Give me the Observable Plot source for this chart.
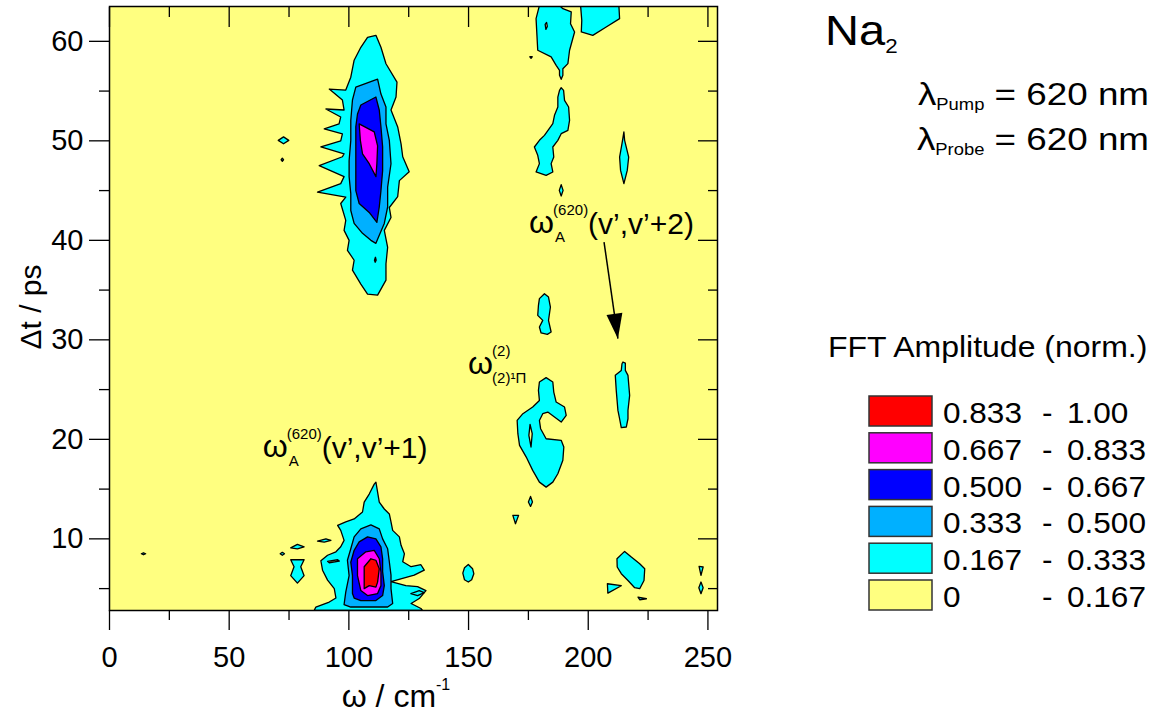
<!DOCTYPE html>
<html><head><meta charset="utf-8">
<script src="https://cdn.jsdelivr.net/npm/d3@7"></script>
<script src="https://cdn.jsdelivr.net/npm/@observablehq/plot@0.6"></script>
<style>
body{margin:0;background:#fff;}
#wrap{position:relative;width:1154px;height:719px;overflow:hidden;}
#wrap svg{position:absolute;left:0;top:0;}
</style></head><body><div id="wrap"></div>
<script>
const FONT = "'Liberation Sans', Arial, Helvetica, sans-serif";
// amplitude levels (0 = background 0–0.167, 5 = 0.833–1.00)
const LEVEL_COLORS = ["#FFFF80", "#00FFFF", "#00B0FF", "#0000FF", "#FF00FF", "#FF0000"];
const legendLow  = ["0.833", "0.667", "0.500", "0.333", "0.167", "0"];
const legendHigh = ["1.00", "0.833", "0.667", "0.500", "0.333", "0.167"];
const legendLevels = [5, 4, 3, 2, 1, 0];
const xMajor = [0, 50, 100, 150, 200, 250];
const xMinor = [25, 75, 125, 175, 225];
const yMajor = [10, 20, 30, 40, 50, 60];
const yMinor = [5, 15, 25, 35, 45, 55];

// ---- contour polygons [ω (cm^-1), Δt (ps)] ----
// upper band near 110 cm^-1
const upperL1 = [[107.8,60.4],[111.3,60.6],[113.4,59.4],[115.5,57.75],[120.1,55.9],[119.7,54.4],[117.6,53.1],[120.4,51.4],[121.8,49.7],[122.5,48.4],[125.2,46.9],[121.1,46.0],[120.4,44.4],[116.9,43.3],[117.6,42.3],[114.8,41.0],[116.2,39.3],[115.5,37.65],[115.5,36.0],[112.0,34.5],[107.8,34.6],[105.0,35.6],[101.5,37.0],[102.2,38.0],[99.4,39.0],[100.1,40.0],[98.0,41.0],[98.7,42.0],[96.6,43.7],[98.7,44.35],[86.9,44.85],[96.6,45.7],[98.0,46.4],[87.6,47.5],[97.3,48.4],[98.0,48.7],[88.3,49.4],[96.6,50.0],[97.3,50.7],[89.7,51.2],[95.9,51.7],[96.6,52.4],[90.4,53.2],[98.0,53.1],[97.3,54.1],[91.8,55.2],[98.7,55.1],[100.8,56.4],[102.2,58.1],[105.0,59.4]];
const upperL2 = [[102.9,55.4],[112.0,56.2],[113.4,54.7],[115.5,53.4],[115.5,51.7],[116.9,50.05],[117.6,47.7],[116.2,45.35],[116.2,43.35],[114.8,41.7],[112.7,40.5],[111.3,39.7],[109.2,40.0],[105.7,40.7],[102.2,41.7],[100.8,43.0],[100.8,44.7],[100.1,46.4],[100.1,48.0],[100.8,50.05],[100.8,52.05],[101.5,54.1]];
const upperL3 = [[105.0,53.6],[111.3,54.4],[112.7,53.1],[113.4,51.4],[114.1,49.4],[114.1,47.0],[113.4,45.0],[112.7,43.35],[111.7,41.8],[108.5,42.8],[104.3,43.7],[102.9,45.0],[102.9,47.0],[102.9,49.4],[102.9,51.4],[103.6,52.7]];
const upperL4 = [[104.3,51.7],[110.6,50.9],[112.0,49.5],[111.7,47.7],[111.3,46.4],[108.5,47.7],[105.7,48.7],[104.8,50.05]];
const upperDiamond = [[70.5,50.05],[72.7,50.4],[74.9,50.05],[72.7,49.7]];
const upperDot = [[71.7,48.1],[72.2,48.25],[72.7,48.1],[72.2,47.95]];
const upperHole = [[110.7,38.0],[111.1,38.3],[111.4,38.0],[111.0,37.8]];
// lower band near 110 cm^-1
const lowerL1 = [[85.5,2.8],[86.2,3.15],[91.8,3.65],[94.6,4.05],[93.9,5.0],[91.1,5.85],[89.0,6.85],[88.3,7.8],[91.1,8.35],[94.6,8.7],[96.6,9.2],[98.0,9.85],[96.6,10.85],[95.3,11.35],[98.7,11.7],[102.2,12.0],[105.7,12.7],[106.4,13.7],[108.5,14.5],[110.6,15.5],[111.3,15.7],[112.0,14.7],[112.7,13.7],[114.8,13.0],[116.9,12.5],[117.6,11.7],[118.3,10.85],[121.1,10.2],[121.8,9.35],[123.2,8.5],[122.5,7.7],[126.0,7.2],[130.1,7.4],[131.5,6.85],[127.3,6.35],[117.6,5.7],[123.8,5.3],[128.7,5.2],[132.2,4.8],[129.4,4.0],[126.0,3.5],[130.1,3.0],[130.8,2.8]];
const lowerL2 = [[98.0,3.4],[98.7,4.65],[100.1,6.3],[99.4,7.85],[100.8,9.0],[102.2,10.2],[105.0,11.0],[109.2,11.4],[112.7,11.0],[114.1,10.0],[116.2,9.0],[116.9,7.7],[117.6,6.35],[117.6,5.0],[118.3,3.5],[116.2,3.15],[100.8,3.15]];
const lowerL3 = [[101.5,4.5],[101.5,6.3],[100.8,7.65],[102.2,8.85],[104.3,9.7],[107.8,10.2],[111.3,10.0],[113.4,9.2],[114.1,8.0],[114.1,6.7],[114.8,5.3],[114.1,4.3],[111.3,3.8],[105.0,3.8],[102.2,4.05]];
const lowerL4 = [[103.6,8.0],[107.1,8.7],[110.6,8.85],[112.7,8.0],[113.4,6.65],[113.4,5.3],[112.0,4.5],[107.8,4.3],[105.0,4.8],[103.6,6.3]];
const lowerL5 = [[106.4,7.2],[109.2,8.0],[111.3,7.85],[112.7,7.0],[112.0,5.65],[111.3,5.15],[108.5,5.3],[106.4,5.0]];
const lowerHole = [[91.1,7.74],[95.3,7.9],[96.0,7.77],[91.8,7.6]];
const lowDot = [[71.3,8.5],[72.2,8.65],[73.1,8.5],[72.2,8.35]];
const lowLens = [[75.7,9.1],[78.5,9.45],[81.3,9.2],[78.5,9.0]];
const lowBowtie = [[75.7,7.9],[81.3,7.9],[79.9,7.2],[81.3,6.3],[78.5,5.55],[75.7,6.3],[77.1,7.2]];
const lowSliver = [[86.9,9.78],[90.4,10.0],[92.5,9.85],[89.7,9.68]];
const lowRight = [[125.9,4.5],[129.4,4.8],[131.5,4.6],[128.7,4.3]];
const farLeftDot = [[13.3,8.5],[14.2,8.6],[15.1,8.5],[14.2,8.4]];
// features between 145 and 250 cm^-1
const omega2Blob = [[179.6,25.76],[182.4,26.2],[185.2,25.76],[185.6,24.75],[186.6,23.75],[190.1,23.25],[190.8,22.4],[188.7,21.74],[185.9,22.24],[183.1,22.74],[181.0,22.58],[179.6,21.9],[180.1,21.07],[182.4,20.06],[188.7,19.9],[189.8,19.23],[189.4,17.9],[187.3,16.54],[185.2,15.7],[182.4,15.2],[179.6,15.7],[176.8,16.88],[174.1,18.22],[171.3,19.39],[170.6,20.57],[170.3,21.9],[172.7,22.58],[176.8,23.25],[179.6,23.9],[179.2,24.92]];
const omega2Hole = [[175.7,21.5],[176.6,20.57],[176.1,19.23],[175.2,20.4]];
const dia14 = [[175.9,14.27],[176.7,13.7],[175.9,13.26],[175.0,13.7]];
const tri12 = [[168.5,12.36],[170.9,12.36],[169.6,11.52]];
const oval150 = [[149.9,7.43],[151.7,6.99],[152.2,6.5],[151.3,5.89],[149.9,5.66],[148.3,5.89],[147.6,6.56],[148.3,7.1]];
const tall215 = [[214.5,27.77],[215.5,27.67],[215.5,26.93],[216.6,26.43],[217.3,24.42],[216.6,22.91],[216.6,22.07],[215.9,21.24],[213.8,21.17],[213.1,22.07],[212.4,22.91],[211.7,24.92],[211.3,26.43],[213.8,26.93],[214.1,27.6]];
const blob218 = [[215.2,8.74],[218.0,8.17],[221.5,7.50],[223.6,7.0],[223.3,5.82],[221.5,4.99],[219.4,5.09],[216.6,5.82],[213.8,6.5],[212.1,7.17],[212.0,8.0]];
const tri210 = [[208.0,5.49],[213.8,5.29],[208.2,4.55]];
const sliver222 = [[220.8,4.15],[224.3,3.98],[221.5,3.88]];
const edgeTri = [[246.3,7.23],[248.0,7.17],[247.1,6.33]];
const edgeOval = [[247.1,5.66],[248.0,5.09],[247.1,4.49],[246.2,5.09]];
const topLeft185 = [[179.6,63.6],[178.2,62.28],[178.9,59.1],[184.5,58.43],[186.6,57.59],[188.0,57.09],[188.0,56.58],[188.7,56.18],[189.4,56.58],[189.4,57.25],[191.5,57.76],[192.2,59.1],[194.3,60.94],[192.6,61.77],[192.9,62.95],[189.4,63.28],[188.0,63.6]];
const topLeftHole = [[182.0,61.7],[182.6,61.9],[182.9,61.5],[182.3,61.2]];
const topDash = [[175.6,58.45],[176.6,58.45],[176.1,58.3]];
const topRight205 = [[196.8,63.6],[197.3,62.11],[197.1,60.94],[201.9,60.6],[207.5,61.44],[213.1,62.28],[212.8,63.6]];
const diag185 = [[188.7,55.34],[189.7,55.07],[190.1,54.07],[191.8,53.4],[192.2,52.06],[191.5,51.05],[188.7,50.72],[187.3,50.05],[185.2,49.38],[185.6,48.37],[184.5,47.71],[185.2,46.87],[182.4,46.53],[178.2,46.87],[179.6,47.71],[178.9,48.54],[177.5,49.38],[179.6,50.05],[181.7,50.55],[185.2,51.72],[185.9,52.56],[187.3,53.4],[187.3,54.4],[188.0,55.07]];
const dia45 = [[188.7,45.59],[189.5,45.02],[188.7,44.46],[187.9,45.02]];
const lens215 = [[214.9,50.89],[215.2,50.05],[216.9,48.37],[216.3,47.03],[214.9,45.7],[213.5,47.03],[213.1,48.37],[214.1,49.71]];
const blob182 = [[181.7,34.64],[183.4,34.3],[184.2,33.3],[183.4,31.96],[184.5,30.79],[182.9,30.55],[180.3,30.69],[179.6,31.29],[181.0,31.96],[178.9,32.46],[179.2,33.47],[179.6,34.14]];

const contours = [
  ...[upperL1, upperDiamond, upperDot, lowerL1, lowDot, lowLens, lowBowtie, lowSliver, lowRight, farLeftDot,
      omega2Blob, dia14, tri12, oval150, tall215, blob218, tri210, sliver222, edgeTri, edgeOval,
      topLeft185, topDash, topRight205, diag185, dia45, lens215, blob182].map(p => ({level: 1, pts: p})),
  ...[upperHole, lowerHole, omega2Hole, topLeftHole].map(p => ({level: 0, pts: p})),
  {level: 2, pts: upperL2}, {level: 2, pts: lowerL2},
  {level: 3, pts: upperL3}, {level: 3, pts: lowerL3},
  {level: 4, pts: upperL4}, {level: 4, pts: lowerL4},
  {level: 5, pts: lowerL5}
];

// annotations
const annV = [{x: 64.0, y: 18.2, label: "(v’,v’+1)"}, {x: 175.3, y: 40.7, label: "(v’,v’+2)"}];
const ann2 = [{x: 149.8, y: 26.6}];
const arrowSpec = [{x1: 206.6, y1: 39.83, x2: 212.4, y2: 30.12}];

const rows = contours.flatMap((c, i) => c.pts.map(([x, y]) => ({id: i, level: c.level, x, y})));
const blank = () => "";
const headSymbol = {draw(ctx) { ctx.moveTo(0, 0); ctx.lineTo(-8, 25); ctx.lineTo(8, 25); ctx.closePath(); }};
const txt = (data, o) => Plot.text(data, {x: "x", y: "y", textAnchor: "start", lineAnchor: "bottom", fontFamily: FONT, fill: "#000", ...o});

const plot = Plot.plot({
  width: 1154, height: 719,
  marginLeft: 109, marginRight: 437, marginTop: 6, marginBottom: 109,
  style: {fontFamily: FONT, fontSize: "29px", color: "#000", background: "transparent", overflow: "visible"},
  x: {domain: [0, 254], label: null},
  y: {domain: [2.8, 63.5], label: null},
  color: {type: "ordinal", domain: [0, 1, 2, 3, 4, 5], range: LEVEL_COLORS},
  marks: [
    Plot.frame({fill: LEVEL_COLORS[0]}),
    Plot.axisX({ticks: xMajor, anchor: "top", tickSize: -20, tickFormat: blank, label: null, strokeWidth: 1.3}),
    Plot.axisX({ticks: xMinor, anchor: "top", tickSize: -10, tickFormat: blank, label: null, strokeWidth: 1.3}),
    Plot.axisY({ticks: yMajor, anchor: "right", tickSize: -20, tickFormat: blank, label: null, strokeWidth: 1.3}),
    Plot.axisY({ticks: yMinor, anchor: "right", tickSize: -10, tickFormat: blank, label: null, strokeWidth: 1.3}),
    Plot.line(rows, {x: "x", y: "y", z: "id", fill: "level", stroke: "#000", strokeWidth: 1.3, curve: "linear-closed", clip: true}),
    Plot.axisX({ticks: xMajor, anchor: "bottom", tickSize: 20, tickPadding: 16, label: null, fontSize: 29, strokeWidth: 1.3}),
    Plot.axisX({ticks: xMinor, anchor: "bottom", tickSize: 10, tickFormat: blank, label: null, strokeWidth: 1.3}),
    Plot.axisY({ticks: yMajor, anchor: "left", tickSize: 20, tickPadding: 6, label: null, fontSize: 29, strokeWidth: 1.3}),
    Plot.axisY({ticks: yMinor, anchor: "left", tickSize: 10, tickFormat: blank, label: null, strokeWidth: 1.3}),
    Plot.frame({stroke: "#000", strokeWidth: 1.5}),
    txt(annV, {text: () => "ω", fontSize: 32}),
    txt(annV, {text: () => "(620)", fontSize: 15, dx: 24, dy: -18}),
    txt(annV, {text: () => "A", fontSize: 15, dx: 26, dy: 9}),
    txt(annV, {text: "label", fontSize: 30, dx: 59, dy: 1}),
    txt(ann2, {text: () => "ω", fontSize: 32}),
    txt(ann2, {text: () => "(2)", fontSize: 15, dx: 24, dy: -18}),
    txt(ann2, {text: () => "(2)¹Π", fontSize: 15, dx: 24, dy: 9}),
    Plot.link(arrowSpec, {x1: "x1", y1: "y1", x2: "x2", y2: "y2", stroke: "#000", strokeWidth: 1.5}),
    Plot.dot(arrowSpec, {x: "x2", y: "y2", symbol: headSymbol, r: 5, fill: "#000", stroke: "none", rotate: 172})
  ]
});
const wrap = document.getElementById("wrap");
wrap.appendChild(plot);

// overlay: axis titles and legend block
const ov = d3.select(wrap).append("svg").attr("width", 1154).attr("height", 719)
  .style("font-family", FONT).attr("fill", "#000");
function label(x, y, sx, anchor, parts, rot) {
  const t = ov.append("text").attr("text-anchor", anchor)
    .attr("transform", `translate(${x},${y})${rot ? ` rotate(${rot})` : ""} scale(${sx},1)`);
  parts.forEach(p => {
    const s = t.append("tspan").text(p.t).attr("font-size", p.fs);
    if (p.dy) s.attr("dy", p.dy);
  });
  return t;
}
label(41, 307, 1, "middle", [{t: "Δt / ps", fs: 30}], -90);
label(396, 707, 1, "middle", [{t: "ω / cm", fs: 32}, {t: "-1", fs: 16, dy: -17}]);
label(825, 45, 1.12, "start", [{t: "Na", fs: 42}, {t: "2", fs: 20, dy: 8}]);
label(1149, 105, 1.15, "end", [{t: "λ", fs: 32}, {t: "Pump", fs: 16, dy: 5}, {t: " = 620 nm", fs: 32, dy: -5}]);
label(1149, 150, 1.15, "end", [{t: "λ", fs: 32}, {t: "Probe", fs: 16, dy: 5}, {t: " = 620 nm", fs: 32, dy: -5}]);
label(828, 357, 1.085, "start", [{t: "FFT Amplitude (norm.)", fs: 29.5}]);
legendLevels.forEach((lv, i) => {
  const y0 = 396 + i * 36.8;
  ov.append("rect").attr("x", 869).attr("y", y0).attr("width", 63).attr("height", 30)
    .attr("fill", LEVEL_COLORS[lv]).attr("stroke", "#333").attr("stroke-width", 1.5);
  label(943, y0 + 27, 1.07, "start", [{t: legendLow[i], fs: 29.5}]);
  label(1042, y0 + 27, 1.07, "start", [{t: "-", fs: 29.5}]);
  label(1067, y0 + 27, 1.07, "start", [{t: legendHigh[i], fs: 29.5}]);
});
</script></body></html>
